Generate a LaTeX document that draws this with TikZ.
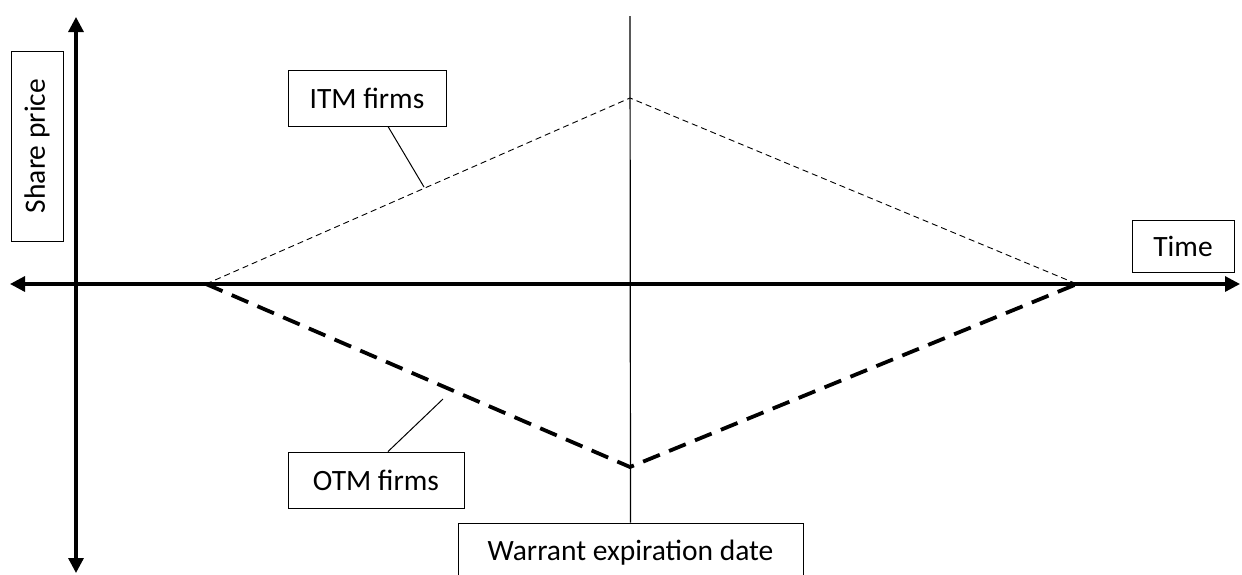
\documentclass[tikz,border=0pt]{standalone}
\usepackage{fontspec}
\setmainfont{Carlito}
\usetikzlibrary{arrows.meta}
\begin{document}
\begin{tikzpicture}[x=1pt,y=-1pt,
  axis/.style={line width=3.2pt,{Triangle[length=15pt,width=15pt]}-{Triangle[length=15pt,width=15pt]}},
  lbl/.style={draw,line width=0.9pt,font=\fontsize{29.5}{31}\selectfont,inner sep=0pt,anchor=center},
  thin dash/.style={line width=0.9pt,dash pattern=on 6pt off 4pt},
  thick dash/.style={line width=3.8pt,dash pattern=on 18pt off 10pt},
  leader/.style={line width=1pt}]
\useasboundingbox (0,0) rectangle (1242,574);
% axes
\coordinate (ytop) at (76,17);
\coordinate (ybot) at (76,573);
\coordinate (xl) at (10,284);
\coordinate (xr) at (1240,284);
\draw[axis] (ybot) -- (ytop);
\draw[axis] (xl) -- (xr);
% vertices
\coordinate (A) at (206,284);
\coordinate (B) at (1077,284);
\coordinate (P) at (630,98);
\coordinate (Q) at (630,467);
\coordinate (vtop) at (630,16);
% boxes
\node[lbl,minimum width=158pt,minimum height=56pt] (itm) at (367,98) {ITM firms};
\node[lbl,minimum width=176pt,minimum height=56pt] (otm) at (376,480) {OTM firms};
\node[lbl,minimum width=102pt,minimum height=52pt] (time) at (1183,246) {Time};
\node[lbl,rotate=90,minimum width=190pt,minimum height=52pt] (share) at (37,146) {Share price};
\node[lbl,minimum width=345pt,minimum height=60pt,fill=white] (warr) at (630.5,553) {Warrant expiration date};
% expiration line
\draw[line width=1.2pt] (vtop) -- (warr.north);
% curves
\draw[thin dash] (A) -- (P) -- (B);
\draw[thick dash] (A) -- (Q) -- (B);
% leaders
\coordinate (itmpt) at (424,187);
\coordinate (otmpt) at (443,399);
\draw[leader] (itm.south) ++(21,0) -- (itmpt);
\draw[leader] (otm.north) ++(12,0) -- (otmpt);
\end{tikzpicture}
\end{document}
